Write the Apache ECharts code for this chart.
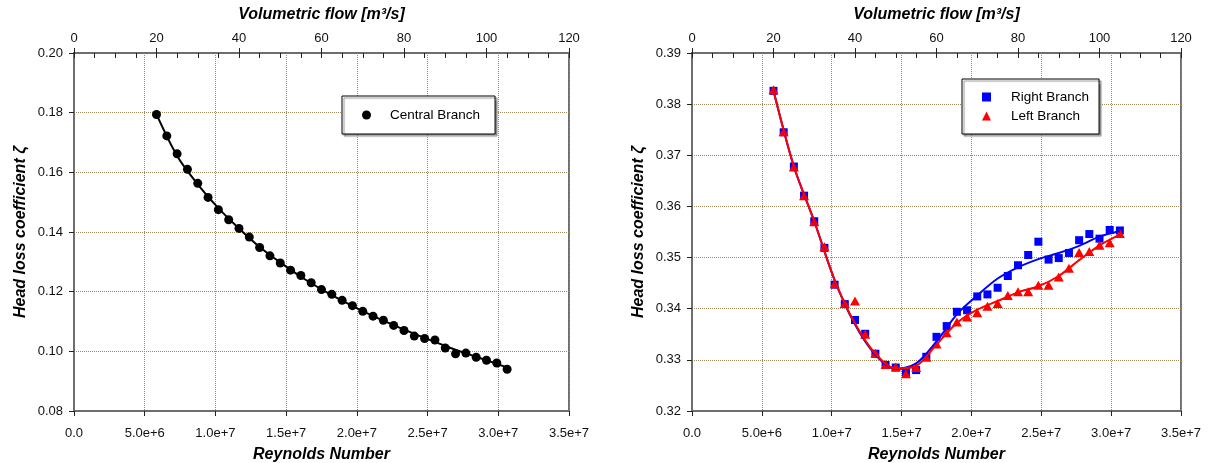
<!DOCTYPE html>
<html>
<head>
<meta charset="utf-8">
<script src="https://cdn.jsdelivr.net/npm/echarts@6/dist/echarts.min.js"></script>
<style>
  html, body { margin: 0; padding: 0; background: #fff; }
  #main { width: 1208px; height: 463px; }
</style>
</head>
<body>
<div id="main"></div>
<script>
// volumetric flow of each measurement [m3/s]
var flow = [20, 22.5, 25, 27.5, 30, 32.5, 35, 37.5, 40, 42.5, 45, 47.5, 50, 52.5, 55, 57.5, 60, 62.5,
            65, 67.5, 70, 72.5, 75, 77.5, 80, 82.5, 85, 87.5, 90, 92.5, 95, 97.5, 100, 102.5, 105];

// left chart: central branch
var centralBranch = [0.1794, 0.1722, 0.1662, 0.1610, 0.1563, 0.1516, 0.1475, 0.1441, 0.1412, 0.1383,
                     0.1348, 0.1320, 0.1296, 0.1272, 0.1254, 0.1230, 0.1207, 0.1191, 0.1171, 0.1153,
                     0.1134, 0.1118, 0.1104, 0.1087, 0.1070, 0.1051, 0.1043, 0.1038, 0.1011, 0.0992,
                     0.0994, 0.0980, 0.0970, 0.0961, 0.0940];

// right chart: right / left branch
var rightBranch = [0.3826, 0.3745, 0.3678, 0.3621, 0.3571, 0.3519, 0.3447, 0.3409, 0.3378, 0.3351,
                   0.3312, 0.3290, 0.3285, 0.3276, 0.3280, 0.3306, 0.3345, 0.3366, 0.3394, 0.3397,
                   0.3424, 0.3428, 0.3441, 0.3464, 0.3485, 0.3505, 0.3531, 0.3496, 0.3499, 0.3509,
                   0.3534, 0.3546, 0.3537, 0.3554, 0.3553];
var leftBranch  = [0.3828, 0.3746, 0.3677, 0.3621, 0.3570, 0.3521, 0.3449, 0.3410, 0.3415, 0.3350,
                   0.3313, 0.3291, 0.3286, 0.3273, 0.3285, 0.3305, 0.3331, 0.3353, 0.3374, 0.3384,
                   0.3392, 0.3405, 0.3410, 0.3426, 0.3433, 0.3433, 0.3446, 0.3446, 0.3462, 0.3479,
                   0.3510, 0.3512, 0.3524, 0.3529, 0.3547];

// fitted curves
var fitFlow = [20, 25, 30, 35, 40, 45, 50, 55, 60, 65, 70, 75, 80, 85, 90, 95, 100, 105];
var centralFit = [0.1794, 0.1655, 0.1560, 0.1480, 0.1412, 0.1350, 0.1298, 0.1250, 0.1208,
                  0.1170, 0.1135, 0.1103, 0.1073, 0.1045, 0.1018, 0.0993, 0.0970, 0.0946];
var rightFit = [0.3826, 0.3678, 0.3571, 0.3456, 0.3369, 0.3310, 0.3282, 0.3293, 0.3336,
                0.3389, 0.3426, 0.3459, 0.3481, 0.3497, 0.3509, 0.3523, 0.3541, 0.3552];
var leftFit  = [0.3826, 0.3678, 0.3571, 0.3456, 0.3371, 0.3312, 0.3283, 0.3288, 0.3330,
                0.3372, 0.3398, 0.3415, 0.3432, 0.3444, 0.3464, 0.3495, 0.3524, 0.3545];

var FONT = '"Liberation Sans", Arial, sans-serif';
var GRID_COLOR = '#a08a5c';
var AXIS_COLOR = '#6e6e6e';

function pairs(xs, ys) {
    return xs.map(function (x, i) { return [x, ys[i]]; });
}

function reLabel(v) {
    if (v === 0) return '0.0';
    return v.toExponential(1);
}

var titleStyle = {fontFamily: FONT, fontSize: 16, fontWeight: 'bold', fontStyle: 'italic', color: '#000'};
var labelStyle = {fontFamily: FONT, fontSize: 13, color: '#111'};

// bottom Reynolds axis + top flow axis (labels) + top flow axis (minor ticks inside)
function xAxesFor(gridIndex) {
    return [
        {
            gridIndex: gridIndex, type: 'value', position: 'bottom',
            min: 0, max: 3.5e7, interval: 5e6,
            name: 'Reynolds Number', nameLocation: 'middle', nameGap: 36, nameTextStyle: titleStyle,
            axisLine: {lineStyle: {color: AXIS_COLOR, width: 2}},
            axisTick: {length: 5, lineStyle: {color: '#222'}},
            axisLabel: Object.assign({formatter: reLabel, margin: 16}, labelStyle),
            splitLine: {show: true, lineStyle: {color: GRID_COLOR, type: 'dotted', width: 1}}
        },
        {
            gridIndex: gridIndex, type: 'value', position: 'top',
            min: 0, max: 120, interval: 20,
            name: 'Volumetric flow [m³/s]', nameLocation: 'middle', nameGap: 30, nameTextStyle: titleStyle,
            axisLine: {lineStyle: {color: AXIS_COLOR, width: 2}},
            axisTick: {length: 5, lineStyle: {color: '#222'}},
            axisLabel: Object.assign({margin: 8}, labelStyle),
            splitLine: {show: false}
        },
        {
            gridIndex: gridIndex, type: 'value', position: 'top',
            min: 0, max: 120, interval: 5,
            axisLine: {show: false},
            axisTick: {inside: true, length: 5, lineStyle: {color: '#222'}},
            axisLabel: {show: false},
            splitLine: {show: false}
        }
    ];
}

function yAxisFor(gridIndex, min, max, step) {
    return {
        gridIndex: gridIndex, type: 'value', min: min, max: max, interval: step,
        name: 'Head loss coefficient ζ', nameLocation: 'middle', nameGap: 45, nameTextStyle: titleStyle,
        axisLine: {show: true, lineStyle: {color: AXIS_COLOR, width: 2}},
        axisTick: {show: true, length: 5, lineStyle: {color: '#222'}},
        axisLabel: Object.assign({formatter: function (v) { return v.toFixed(2); }, margin: 11}, labelStyle),
        splitLine: {show: true, lineStyle: {color: GRID_COLOR, type: 'dotted', width: 1}}
    };
}

var legendText = {fontFamily: FONT, fontSize: 13.5, color: '#000', padding: [0, 0, 0, 14]};

var chart = echarts.init(document.getElementById('main'), null, {renderer: 'canvas'});

var gridBase = {top: 53, bottom: 52, show: true, borderColor: AXIS_COLOR, borderWidth: 2,
                backgroundColor: 'transparent', outerBoundsMode: 'none', containLabel: false};

var option = {
    backgroundColor: '#fff',
    animation: false,
    textStyle: {fontFamily: FONT},
    grid: [
        Object.assign({left: 74, right: 639}, gridBase),
        Object.assign({left: 692, right: 27}, gridBase)
    ],
    xAxis: xAxesFor(0).concat(xAxesFor(1)),
    yAxis: [yAxisFor(0, 0.08, 0.20, 0.02), yAxisFor(1, 0.32, 0.39, 0.01)],
    legend: [
        {
            data: [{name: 'Central Branch', icon: 'circle'}],
            left: 342, top: 96, orient: 'vertical',
            itemWidth: 9, itemHeight: 9,
            padding: [12, 15, 12, 20],
            backgroundColor: '#fff', borderColor: '#000', borderWidth: 1,
            shadowColor: 'rgba(120,120,120,0.8)', shadowOffsetX: 2, shadowOffsetY: 2, shadowBlur: 1,
            textStyle: legendText
        },
        {
            data: [{name: 'Right Branch', icon: 'rect'}, {name: 'Left Branch', icon: 'triangle'}],
            left: 962, top: 79, orient: 'vertical',
            itemWidth: 9, itemHeight: 9, itemGap: 5,
            padding: [11, 10, 11, 20],
            backgroundColor: '#fff', borderColor: '#000', borderWidth: 1,
            shadowColor: 'rgba(120,120,120,0.8)', shadowOffsetX: 2, shadowOffsetY: 2, shadowBlur: 1,
            textStyle: Object.assign({}, legendText, {padding: [0, 0, 0, 15]})
        }
    ],
    series: [
        {
            name: 'Central Branch', type: 'scatter', xAxisIndex: 1, yAxisIndex: 0,
            symbol: 'circle', symbolSize: 9, itemStyle: {color: '#000', opacity: 1},
            data: pairs(flow, centralBranch), z: 3
        },
        {
            name: 'Central fit', type: 'line', xAxisIndex: 1, yAxisIndex: 0,
            showSymbol: false, smooth: 0.3, lineStyle: {color: '#000', width: 2},
            data: pairs(fitFlow, centralFit), z: 4
        },
        {
            name: 'Right Branch', type: 'scatter', xAxisIndex: 4, yAxisIndex: 1,
            symbol: 'rect', symbolSize: 8, itemStyle: {color: '#0000ff', opacity: 1},
            data: pairs(flow, rightBranch), z: 3
        },
        {
            name: 'Left Branch', type: 'scatter', xAxisIndex: 4, yAxisIndex: 1,
            symbol: 'triangle', symbolSize: [10, 9], itemStyle: {color: '#ff0000', opacity: 1},
            data: pairs(flow, leftBranch), z: 4
        },
        {
            name: 'Right fit', type: 'line', xAxisIndex: 4, yAxisIndex: 1,
            showSymbol: false, smooth: 0.3, lineStyle: {color: '#0000ff', width: 2},
            data: pairs(fitFlow, rightFit), z: 5
        },
        {
            name: 'Left fit', type: 'line', xAxisIndex: 4, yAxisIndex: 1,
            showSymbol: false, smooth: 0.3, lineStyle: {color: '#ff0000', width: 2},
            data: pairs(fitFlow, leftFit), z: 6
        }
    ]
};

chart.setOption(option);

window.onresize = function () {
    chart.resize();
};
</script>
</body>
</html>
